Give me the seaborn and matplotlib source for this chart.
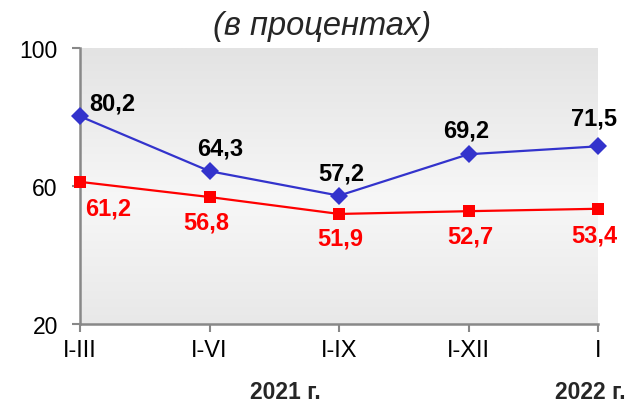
import numpy as np
import pandas as pd
import matplotlib
matplotlib.use("Agg")
import matplotlib.pyplot as plt
import seaborn as sns
from matplotlib.colors import LinearSegmentedColormap

categories = ["I-III", "I-VI", "I-IX", "I-XII", "I"]
series_blue = [80.2, 64.3, 57.2, 69.2, 71.5]
series_red = [61.2, 56.8, 51.9, 52.7, 53.4]
labels_blue = ["80,2", "64,3", "57,2", "69,2", "71,5"]
labels_red = ["61,2", "56,8", "51,9", "52,7", "53,4"]
yticks = [20, 60, 100]
title = "(в процентах)"
year_labels = ["2021 г.", "2022 г."]

sns.set_style("ticks")
plt.rcParams["font.family"] = ["Liberation Sans", "DejaVu Sans"]

fig = plt.figure(figsize=(6.32, 4.06), dpi=100)
ax = fig.add_axes([80 / 632, 1 - 325 / 406, (598 - 80) / 632, (325 - 49) / 406])

# gradient background
cmap = LinearSegmentedColormap.from_list(
    "bg", [(0.0, "#e8e8e8"), (0.45, "#f7f7f7"), (1.0, "#e3e3e3")])
grad = np.linspace(0, 1, 256).reshape(-1, 1)
ax.imshow(grad, cmap=cmap, aspect="auto", extent=[0, 1, 0, 1],
          transform=ax.transAxes, origin="lower", zorder=0)

df = pd.DataFrame({
    "value": series_blue + series_red,
    "series": ["blue"] * 5 + ["red"] * 5,
})
x_idx = list(range(len(categories)))
df["x"] = x_idx * 2

sns.lineplot(data=df, x="x", y="value", hue="series", style="series",
             palette={"blue": "#3333cc", "red": "#ff0000"},
             markers={"blue": "D", "red": "s"}, dashes=False,
             markersize=9, markeredgewidth=0, linewidth=1.6,
             legend=False, ax=ax, zorder=5, clip_on=False)

blue_off = [(23, 9.5), (8, 17), (1.5, 16.5), (-1.5, 17.5), (-3, 20.5)]
red_off = [(20, -19), (-2.5, -18), (0.7, -17.3), (1.5, -17.6), (-3, -19)]
for i in x_idx:
    ax.annotate(labels_blue[i], (i, series_blue[i]), xytext=blue_off[i],
                textcoords="offset points", ha="center", va="center",
                fontsize=17, fontweight="bold", color="black", zorder=6)
    ax.annotate(labels_red[i], (i, series_red[i]), xytext=red_off[i],
                textcoords="offset points", ha="center", va="center",
                fontsize=17, fontweight="bold", color="#ff0000", zorder=6)

ax.set_xlim(0, len(categories) - 1)
ax.set_ylim(20, 100)
ax.set_yticks(yticks)
ax.set_xticks(x_idx)
ax.set_xticklabels(categories)
ax.set_xlabel("")
ax.set_ylabel("")
ax.tick_params(axis="both", color="#888888", length=6,
               width=1.5, labelcolor="black")
ax.tick_params(axis="x", labelsize=17, pad=5)
ax.tick_params(axis="y", labelsize=16.5, pad=10)
sns.despine(ax=ax, top=True, right=True)
for s in ["left", "bottom"]:
    ax.spines[s].set_color("#888888")
    ax.spines[s].set_linewidth(1.8)
    ax.spines[s].set_zorder(2.5)

fig.text(322 / 632, 1 - 27 / 406, title, ha="center", va="center",
         fontsize=23.5, fontstyle="italic")
fig.text(285 / 632, 2 / 406, year_labels[0], ha="center", va="bottom",
         fontsize=16.5, fontweight="bold")
fig.text(590 / 632, 2 / 406, year_labels[1], ha="center", va="bottom",
         fontsize=16.5, fontweight="bold")

fig.savefig("out.png", dpi=100)
